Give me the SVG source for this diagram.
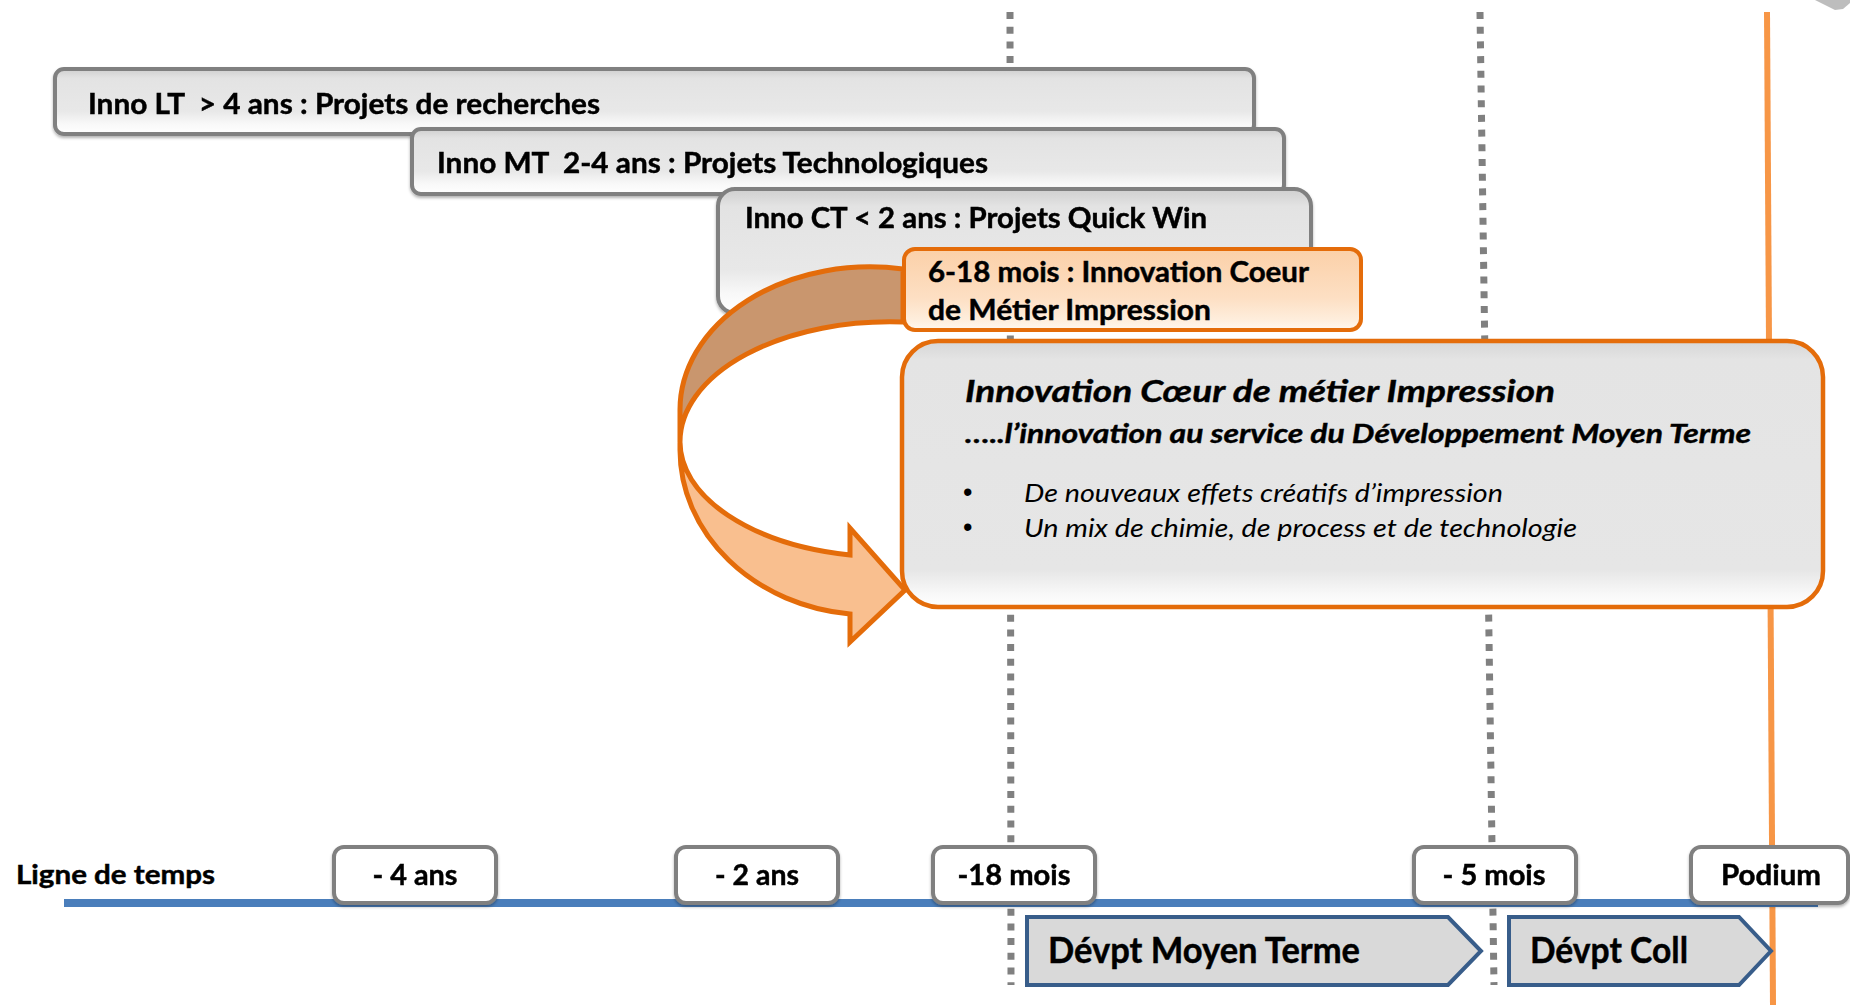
<svg xmlns="http://www.w3.org/2000/svg" width="1850" height="1005" viewBox="0 0 1850 1005">
<defs>
  <linearGradient id="gbar" x1="0" y1="0" x2="0" y2="1">
    <stop offset="0" stop-color="#cfcfcf"/>
    <stop offset="0.14" stop-color="#e3e3e3"/>
    <stop offset="0.65" stop-color="#e8e8e8"/>
    <stop offset="0.84" stop-color="#f8f8f8"/>
    <stop offset="1" stop-color="#ffffff"/>
  </linearGradient>
  <linearGradient id="gorange" x1="0" y1="0" x2="0" y2="1">
    <stop offset="0" stop-color="#fbd0a8"/>
    <stop offset="0.6" stop-color="#fddfc3"/>
    <stop offset="0.88" stop-color="#feeedd"/>
    <stop offset="1" stop-color="#fff8f0"/>
  </linearGradient>
  <linearGradient id="gbig" x1="0" y1="0" x2="0" y2="1">
    <stop offset="0" stop-color="#d6d6d6"/>
    <stop offset="0.07" stop-color="#e4e4e4"/>
    <stop offset="0.86" stop-color="#e6e6e6"/>
    <stop offset="0.95" stop-color="#f8f8f8"/>
    <stop offset="1" stop-color="#ffffff"/>
  </linearGradient>
  <filter id="sh" x="-5%" y="-20%" width="110%" height="150%">
    <feDropShadow dx="0" dy="2" stdDeviation="1.5" flood-color="#000" flood-opacity="0.3"/>
  </filter>
</defs>
<style>
  .bar{fill:url(#gbar);stroke:#808080;stroke-width:4}
  .t{font-family:Lato,"Liberation Sans",sans-serif;font-weight:bold;fill:#000;stroke:#000;stroke-width:0.45;white-space:pre}
  .it{font-family:Lato,"Liberation Sans",sans-serif;font-style:italic;fill:#000;white-space:pre}
  .bi{font-weight:bold;stroke:#000;stroke-width:0.4}
  .bul{font-family:"Liberation Sans",sans-serif;fill:#000}
  .dot{stroke:#808080;stroke-width:7;stroke-dasharray:7 7.7;fill:none}
  .lbl{fill:#fff;stroke:#808080;stroke-width:4}
  .chev{fill:#d9d9d9;stroke:#385d8a;stroke-width:4;stroke-linejoin:miter}
  .arr{stroke:#e46c0a;stroke-width:5;stroke-linejoin:miter}
</style>

<g id="guides">
  <line class="dot" x1="1010" y1="12" x2="1011" y2="985"/>
  <line class="dot" x1="1480" y1="12" x2="1494" y2="985"/>
  <line x1="1767" y1="12" x2="1773" y2="1005" stroke="#f79646" stroke-width="6"/>
  <polygon points="1815,0 1835,10 1843,9 1850,3 1850,0" fill="#bdbdbd"/>
</g>

<g id="bar-lt" filter="url(#sh)">
  <rect class="bar" x="55" y="69" width="1199" height="65" rx="9"/>
  <text class="t" x="88" y="114" font-size="28" textLength="512" lengthAdjust="spacingAndGlyphs">Inno LT  &gt; 4 ans : Projets de recherches</text>
</g>
<g id="bar-mt" filter="url(#sh)">
  <rect class="bar" x="412" y="129" width="872" height="65" rx="9"/>
  <text class="t" x="437" y="173" font-size="28" textLength="551" lengthAdjust="spacingAndGlyphs">Inno MT  2-4 ans : Projets Technologiques</text>
</g>
<g id="bar-ct" filter="url(#sh)">
  <rect class="bar" x="718" y="189" width="593" height="124" rx="17"/>
  <text class="t" x="745" y="228" font-size="28" textLength="462" lengthAdjust="spacingAndGlyphs">Inno CT &lt; 2 ans : Projets Quick Win</text>
</g>

<g id="connectors">
  <path class="arr" fill="#c9966e" d="M 903,269 A 190,143 0 0 0 680,410 L 680,442 A 210,120 0 0 1 903,322 Z"/>
  <path class="arr" fill="#f9bf8f" d="M 680,442 L 680,450 A 190,165 0 0 0 850,614 L 850,642 L 905,590 L 850,528 L 850,555 A 210,115 0 0 1 680,442 Z"/>
</g>

<g id="box-6-18">
  <rect x="904" y="249" width="457" height="81" rx="11" fill="url(#gorange)" stroke="#e46c0a" stroke-width="4"/>
  <text class="t" x="928" y="282" font-size="28" textLength="381" lengthAdjust="spacingAndGlyphs">6-18 mois : Innovation Coeur</text>
  <text class="t" x="928" y="320" font-size="28" textLength="283" lengthAdjust="spacingAndGlyphs">de Métier Impression</text>
</g>

<g id="box-innovation">
  <rect x="902" y="341" width="921" height="266" rx="36" fill="url(#gbig)" stroke="#e46c0a" stroke-width="4.5"/>
  <text class="it bi" x="965" y="402" font-size="29.5" textLength="590" lengthAdjust="spacingAndGlyphs">Innovation Cœur de métier Impression</text>
  <text class="it bi" x="965" y="443" font-size="26" textLength="786" lengthAdjust="spacingAndGlyphs">…..l’innovation au service du Développement Moyen Terme</text>
  <text class="bul" x="963" y="501" font-size="27">•</text>
  <text class="it" x="1024" y="502" font-size="25.5" textLength="479" lengthAdjust="spacingAndGlyphs">De nouveaux effets créatifs d’impression</text>
  <text class="bul" x="963" y="536" font-size="27">•</text>
  <text class="it" x="1024" y="537" font-size="25.5" textLength="553" lengthAdjust="spacingAndGlyphs">Un mix de chimie, de process et de technologie</text>
</g>

<g id="timeline">
  <line x1="64" y1="903" x2="1818" y2="903" stroke="#4a7ebb" stroke-width="8"/>
  <text class="t" x="16" y="884" font-size="27" textLength="199" lengthAdjust="spacingAndGlyphs">Ligne de temps</text>
</g>

<g id="lbl-4ans" filter="url(#sh)">
  <rect class="lbl" x="334" y="847" width="162" height="56" rx="10"/>
  <text class="t" x="415" y="885" font-size="28" text-anchor="middle" textLength="85" lengthAdjust="spacingAndGlyphs">- 4 ans</text>
</g>
<g id="lbl-2ans" filter="url(#sh)">
  <rect class="lbl" x="676" y="847" width="162" height="56" rx="10"/>
  <text class="t" x="757" y="885" font-size="28" text-anchor="middle" textLength="84" lengthAdjust="spacingAndGlyphs">- 2 ans</text>
</g>
<g id="lbl-18mois" filter="url(#sh)">
  <rect class="lbl" x="933" y="847" width="162" height="56" rx="10"/>
  <text class="t" x="1014" y="885" font-size="28" text-anchor="middle" textLength="113" lengthAdjust="spacingAndGlyphs">-18 mois</text>
</g>
<g id="lbl-5mois" filter="url(#sh)">
  <rect class="lbl" x="1414" y="847" width="162" height="56" rx="10"/>
  <text class="t" x="1494" y="885" font-size="28" text-anchor="middle" textLength="103" lengthAdjust="spacingAndGlyphs">- 5 mois</text>
</g>
<g id="lbl-podium" filter="url(#sh)">
  <rect class="lbl" x="1691" y="847" width="157" height="56" rx="10"/>
  <text class="t" x="1771" y="885" font-size="28" text-anchor="middle" textLength="100" lengthAdjust="spacingAndGlyphs">Podium</text>
</g>

<g id="chev-moyen-terme">
  <polygon class="chev" points="1027,917 1448,917 1481,951 1448,985 1027,985"/>
  <text class="t" x="1048" y="963" font-size="37" textLength="312" lengthAdjust="spacingAndGlyphs">Dévpt Moyen Terme</text>
</g>
<g id="chev-coll">
  <polygon class="chev" points="1509,917 1739,917 1771,951 1739,985 1509,985"/>
  <text class="t" x="1530" y="963" font-size="37" textLength="158" lengthAdjust="spacingAndGlyphs">Dévpt Coll</text>
</g>
</svg>
